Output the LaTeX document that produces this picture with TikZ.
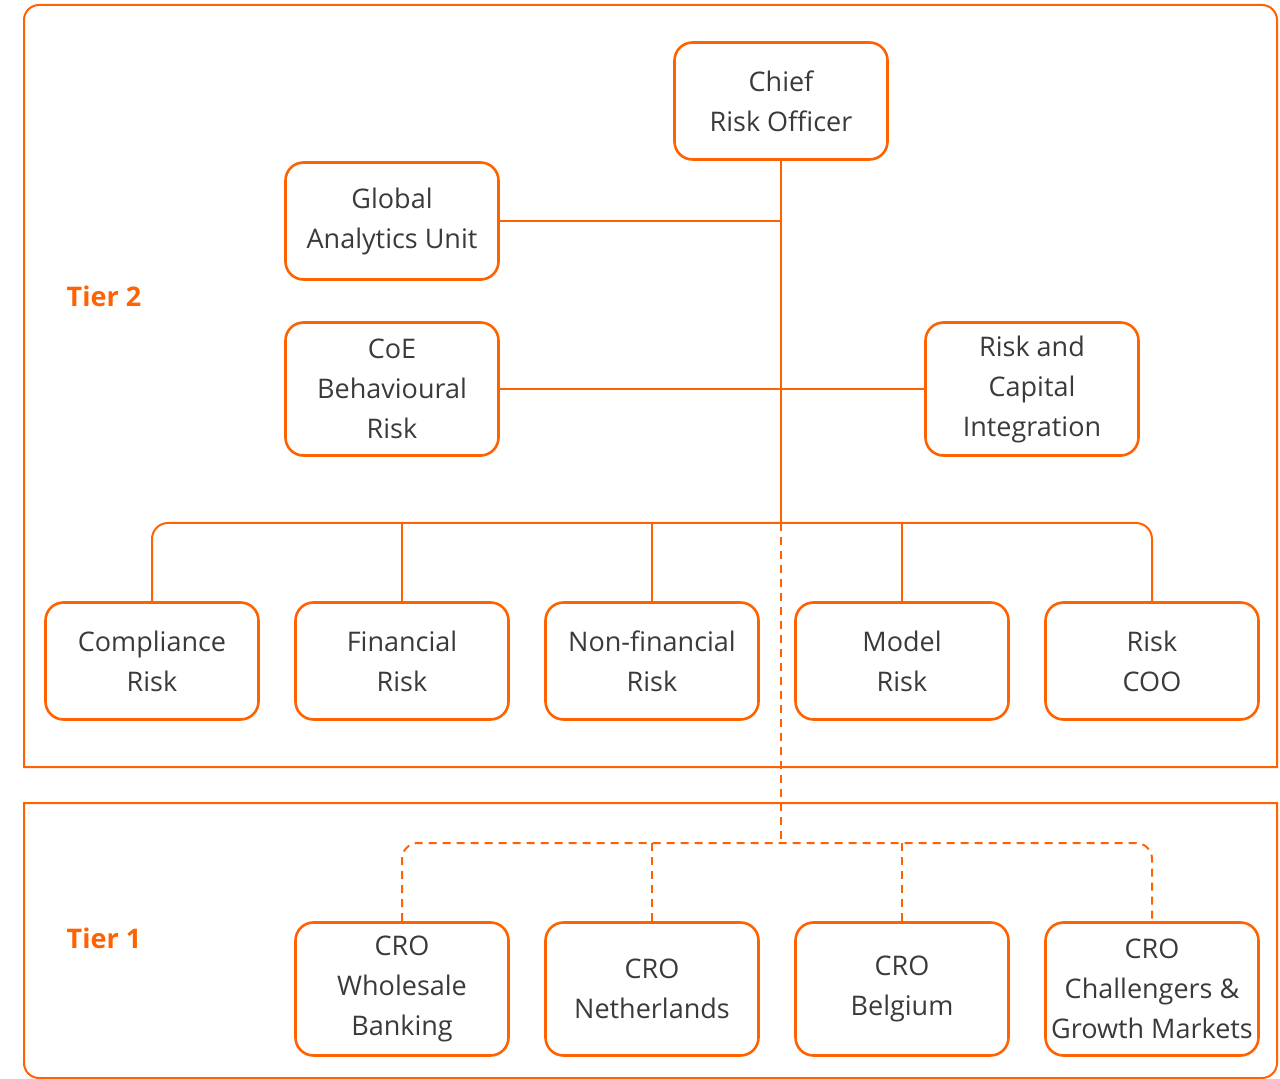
\documentclass[tikz,border=0pt]{standalone}
\usepackage{fontspec}
\setmainfont{Open Sans}
\definecolor{ingorange}{HTML}{FF6200}
\definecolor{inktext}{HTML}{3A3A3A}

\begin{document}
\begin{tikzpicture}[x=0.5pt, y=-0.5pt,
	box/.style={draw=ingorange, line width=1.3pt, rounded corners=9pt, minimum width=106.5pt, minimum height=58.5pt, align=center, text=inktext, font=\fontsize{13.5}{20}\selectfont, inner sep=2pt},
	tallbox/.style={box, minimum height=66.5pt},
	tier/.style={text=ingorange, font=\fontsize{13.5}{16}\selectfont\bfseries},
	frame/.style={draw=ingorange, line width=1pt},
	link/.style={draw=ingorange, line width=1pt},
	dlink/.style={link, dash pattern=on 4pt off 3pt}]
	\useasboundingbox (0,0) rectangle (1280,1079);
	
	% tier frames
	\draw[frame] (24,767) -- (24,20) arc[start angle=180, end angle=270, radius=15] -- (1262,5) arc[start angle=270, end angle=360, radius=15] -- (1277,767) -- cycle;
	\draw[frame] (24,803) -- (1277,803) -- (1277,1063) arc[start angle=0, end angle=90, radius=15] -- (39,1078) arc[start angle=90, end angle=180, radius=15] -- cycle;
	
	\node[tier] (t2) at (104,296) {Tier 2};
	\node[tier] (t1) at (104,938) {Tier 1};
	
	% tier 2
	\node[box] (cro) at (781,101) {Chief\\Risk Officer};
	\node[box] (gau) at (392,221) {Global\\Analytics Unit};
	\node[tallbox] (coe) at (392,389) {CoE\\Behavioural\\Risk};
	\node[tallbox] (rci) at (1032,389) {Risk and\\Capital\\Integration};
	
	\node[box] (comp) at (152,661) {Compliance\\Risk};
	\node[box] (fin) at (402,661) {Financial\\Risk};
	\node[box] (nfr) at (652,661) {Non-financial\\Risk};
	\node[box] (mod) at (902,661) {Model\\Risk};
	\node[box] (coo) at (1152,661) {Risk\\COO};
	
	% tier 1
	\node[tallbox] (wb) at (402,989) {CRO\\Wholesale\\Banking};
	\node[tallbox] (nl) at (652,989) {CRO\\Netherlands};
	\node[tallbox] (be) at (902,989) {CRO\\Belgium};
	\node[tallbox] (cgm) at (1152,989) {CRO\\Challengers \&\\Growth Markets};
	
	\coordinate (bus) at (781,523);
	\coordinate (dbus) at (781,843);
	
	% solid lines
	\draw[link] (cro.south) -- (bus);
	\draw[link] (gau.east) -- (gau.east -| cro.south);
	\draw[link] (coe.east) -- (rci.west);
	\draw[link, rounded corners=8pt] (comp.north) |- (coo.north |- bus) -- (coo.north);
	\foreach \n in {fin,nfr,mod}
	\draw[link] (\n.north) -- (\n.north |- bus);
	
	% dashed lines
	\draw[dlink] (bus) -- (dbus);
	\draw[dlink, rounded corners=8pt] (wb.north) |- (cgm.north |- dbus) -- (cgm.north);
	\foreach \n in {nl,be}
	\draw[dlink] (\n.north) -- (\n.north |- dbus);
\end{tikzpicture}
\end{document}
